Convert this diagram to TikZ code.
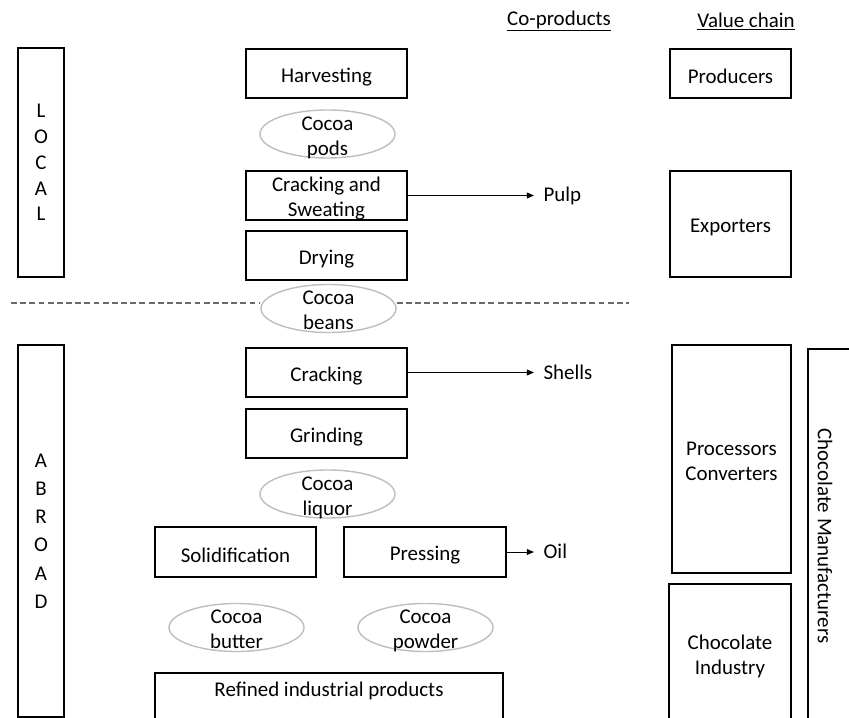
\documentclass[tikz,border=0pt]{standalone}
\usepackage{fontspec}
\setmainfont{Carlito}
\usepackage{tikz}
\usetikzlibrary{arrows.meta, positioning, shapes.geometric}
\definecolor{podgray}{RGB}{190,190,190}
\definecolor{cutgray}{RGB}{105,105,105}
\newcommand{\lbl}{\fontsize{17.8}{21.2}\selectfont}

\begin{document}
\begin{tikzpicture}[x=0.85pt, y=-0.85pt,
    box/.style={draw, line width=1.6pt, inner sep=0pt, align=center, font=\lbl},
    lowone/.style={text height=17.7pt},
    lowtwo/.style={text height=40pt, text depth=4pt, inner ysep=-8pt},
    stagebox/.style={box, minimum width=161*0.85pt, minimum height=49*0.85pt},
    pod/.style={ellipse, draw=podgray, line width=1.2pt, minimum width=135*0.85pt,
                minimum height=48*0.85pt, inner sep=0pt, align=center, font=\lbl, lowtwo},
    flow/.style={-{Triangle[length=6pt, width=5pt]}, line width=0.85pt, shorten >=6pt},
    coprod/.style={font=\lbl, inner sep=2pt, anchor=west},
    cut/.style={cutgray, line width=1.5pt, dash pattern=on 5pt off 2.8pt}]
  \clip (0,0) rectangle (849,718);

  \node[font=\lbl] (cohead) at (559,21) {\underline{Co-products}};
  \node[font=\lbl] (vchead) at (746,21) {\underline{Value chain}};

  \node[box, minimum width=46*0.85pt, minimum height=229*0.85pt,
        font=\fontsize{17.8}{22}\selectfont] (local) at (41,162.5) {L\\O\\C\\A\\L};
  \node[box, minimum width=46*0.85pt, minimum height=372*0.85pt,
        font=\fontsize{17.8}{24}\selectfont] (abroad) at (41,531) {A\\B\\R\\O\\A\\D};

  \foreach \n/\y/\t in {harv/73.5/Harvesting, dry/255.5/Drying,
                        crack/372.5/Cracking, grind/433.5/Grinding} {
    \node[stagebox, lowone] (\n) at (326.5,\y) {\t};
  }
  \node[stagebox, lowtwo] (crsw) at (326.5,195.5) {Cracking and\\Sweating};
  \node[box, lowone, minimum width=161*0.85pt, minimum height=50*0.85pt] (solid) at (235.5,552) {Solidification};
  \node[box, lowone, minimum width=162*0.85pt, minimum height=50*0.85pt] (press) at (425,552) {Pressing};
  \node[box, minimum width=348*0.85pt, minimum height=67*0.85pt] (refined) at (329,706.5) {};
  \node[font=\lbl, below=5pt of refined.north] (refinedtxt) {Refined industrial products};

  \foreach \n/\x/\y/\t in {pods/327.5/134/{Cocoa\\pods}, beans/328.5/308.5/{Cocoa\\beans},
                           liquor/327.5/494/{Cocoa\\liquor}, butter/236.5/627.5/{Cocoa\\butter},
                           powder/425.5/627.5/{Cocoa\\powder}} {
    \node[pod] (\n) at (\x,\y) {\t};
  }

  \coordinate (cutl) at (11,303);
  \coordinate (cutr) at (629,303);
  \draw[cut] (cutl) -- (beans.west |- cutl);
  \draw[cut] (beans.east |- cutr) -- (cutr);

  \node[coprod] (pulp) at (541,196) {Pulp};
  \node[coprod] (shells) at (541,372.5) {Shells};
  \node[coprod] (oil) at (541,551) {Oil};
  \draw[flow] (crsw.east) -- (crsw.east -| pulp.west);
  \draw[flow] (crack.east) -- (crack.east -| shells.west);
  \draw[flow] (press.east) -- (press.east -| oil.west);

  \node[box, lowone, minimum width=121*0.85pt, minimum height=49*0.85pt] (prod) at (730.5,73.5) {Producers};
  \node[box, lowone, minimum width=121*0.85pt, minimum height=106*0.85pt] (expo) at (730.5,224) {Exporters};
  \node[box, lowtwo, minimum width=119*0.85pt, minimum height=228*0.85pt] (proc) at (731.5,459) {Processors\\Converters};
  \node[box, minimum width=122*0.85pt, minimum height=144*0.85pt] (chind) at (730,656) {Chocolate\\Industry};
  \node[box, minimum width=80*0.85pt, minimum height=374*0.85pt] (chman) at (848,536) {};
  \node[font=\lbl, rotate=-90] (chmantxt) at (825,536) {Chocolate Manufacturers};
\end{tikzpicture}
\end{document}
